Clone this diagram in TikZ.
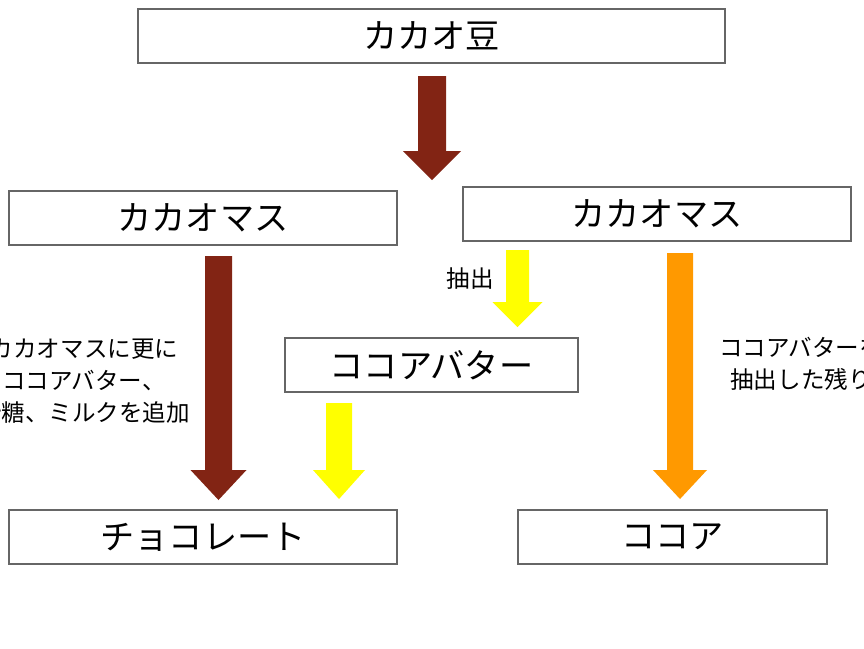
\documentclass[tikz,border=0pt]{standalone}
\usepackage{fontspec}
\setmainfont{Noto Sans CJK JP}
\usepackage{tikz}
\usetikzlibrary{positioning}

\definecolor{cocoared}{RGB}{130,36,20}
\definecolor{butteryellow}{RGB}{255,255,0}
\definecolor{cocoaorange}{RGB}{255,153,0}

\tikzset{
  box/.style={draw=black!60, line width=0.5pt, fill=white, minimum height=0.75cm,
    inner sep=0pt, font=\fontsize{13.5}{16}\selectfont},
  note/.style={align=center, inner sep=0pt, font=\fontsize{9.3}{12.6}\selectfont}
}

\begin{document}
\begin{tikzpicture}[x=0.0138889cm, y=-0.0138889cm]

\useasboundingbox (0,0) rectangle (864,648);
\clip (0,0) rectangle (864,648);

\node[box, minimum width=8.15cm] (bean) at (431.5,36) {カカオ豆};
\node[box, minimum width=5.39cm] (massl) at (203,218) {カカオマス};
\node[box, minimum width=5.39cm] (massr) at (657,214) {カカオマス};
\node[box, minimum width=4.07cm] (butter) at (431.5,365) {ココアバター};
\node[box, minimum width=5.39cm] (choco) at (203,537) {チョコレート};
\node[box, minimum width=4.29cm] (cocoa) at (672.5,537) {ココア};

% block arrows: colour / x / top / tip / half shaft / half head / head length
\foreach \col/\x/\ya/\yb/\s/\h/\hl in {
  cocoared/432/76/180/14/29/29,
  cocoared/218.5/256/500/13.5/28/30,
  butteryellow/517.5/250/327/11.5/25/25,
  butteryellow/339/403/499/13/26/29,
  cocoaorange/680/253/499/13/27/29} {
\fill[\col] (\x-\s,\ya) -- (\x+\s,\ya) -- (\x+\s,\yb-\hl) -- (\x+\h,\yb-\hl)
  -- (\x,\yb) -- (\x-\h,\yb-\hl) -- (\x-\s,\yb-\hl) -- cycle;
}

\node[note] (extract) at (470,279) {抽出};
\node[note] (chocnote) at (84,381) {カカオマスに更に\\ココアバター、\\砂糖、ミルクを追加};
\node[note] (cocoanote) at (801,364) {ココアバターを\\抽出した残り};

\end{tikzpicture}
\end{document}
